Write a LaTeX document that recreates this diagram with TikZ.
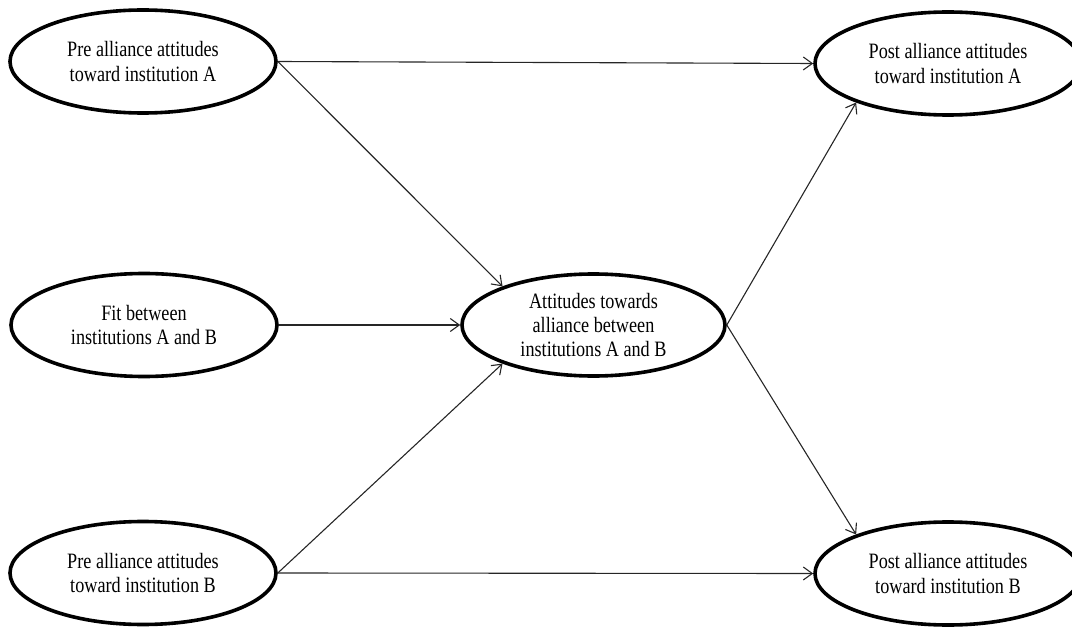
\documentclass[tikz,border=0pt]{standalone}
\usepackage{fontspec}
\newfontfamily\tnr[FakeStretch=0.83]{Liberation Serif}
\usetikzlibrary{shapes.geometric,arrows.meta}
\begin{document}
\begin{tikzpicture}[x=1bp,y=-1bp,
  oval/.style={ellipse,draw=black,line width=3.6bp,minimum width=266bp,minimum height=103bp,inner sep=0pt,align=center,
    font=\tnr\fontsize{22}{24.5}\selectfont},
  conn/.style={line width=1.1bp,draw=black!85,-{Straight Barb[length=9bp,width=13bp,line width=1.1bp]}}]
\useasboundingbox (0,0) rectangle (1072,627);
\node[oval] (tl) at (143,61.5) {Pre alliance attitudes\\toward institution A};
\node[oval] (ml) at (144,325) {Fit between\\institutions A and B};
\node[oval] (bl) at (143,573) {Pre alliance attitudes\\toward institution B};
\node[oval,minimum width=263bp,minimum height=102bp] (c) at (593.5,325) {Attitudes towards\\alliance between\\institutions A and B};
\node[oval] (tr) at (948,63.5) {Post alliance attitudes\\toward institution A};
\node[oval] (br) at (948,573.5) {Post alliance attitudes\\toward institution B};
\draw[conn] (tl.east) -- (tr.west);
\draw[conn] (tl.east) -- (c.157);
\draw[conn] (ml.east) -- (c.west);
\draw[conn] (bl.east) -- (c.203);
\draw[conn] (bl.east) -- (br.west);
\draw[conn] (c.east) -- (tr.203);
\draw[conn] (c.east) -- (br.157);
\end{tikzpicture}
\end{document}
